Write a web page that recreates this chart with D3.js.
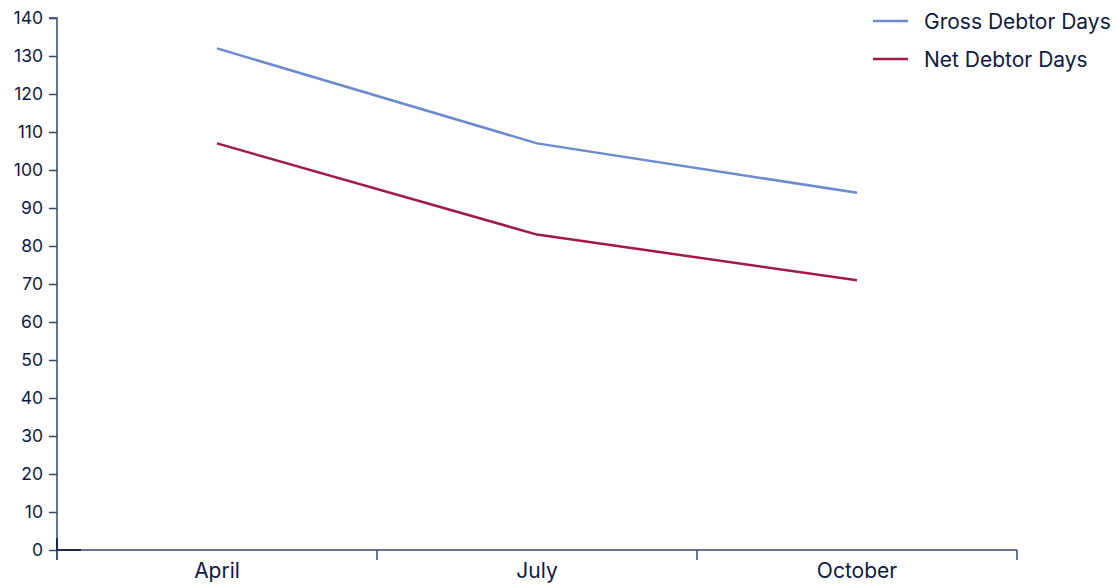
<!DOCTYPE html>
<html>
<head>
<meta charset="utf-8">
<script src="https://cdn.jsdelivr.net/npm/d3@7"></script>
<style>
  html, body { margin: 0; padding: 0; background: #fff; }
  svg { display: block; }
  text { font-family: Inter, "Noto Sans", sans-serif; fill: #0d1a45; }
</style>
</head>
<body>
<svg id="chart" width="1116" height="584"></svg>
<script>
const categories = ["April", "July", "October"];
const seriesNames = ["Gross Debtor Days", "Net Debtor Days"];
const grossValues = [132, 107, 94];
const netValues = [107, 83, 71];
const yTicks = [0, 10, 20, 30, 40, 50, 60, 70, 80, 90, 100, 110, 120, 130, 140];
const colors = ["#6a8bd0", "#a11a45"];

(function () {
const svg = d3.select("#chart");
const mLeft = 57, mRight = 1017, mTop = 18, mBottom = 550;
const axisColor = "#37476b";

const x = d3.scaleBand().domain(categories).range([mLeft, mRight]);
const y = d3.scaleLinear().domain([0, 140]).range([mBottom, mTop]);

// y axis
const ya = svg.append("g").attr("transform", `translate(${mLeft},0)`)
  .call(d3.axisLeft(y).tickValues(yTicks).tickSize(8).tickPadding(6));
ya.select(".domain").attr("stroke", axisColor).attr("stroke-width", 1.5).attr("d", `M-8,${mTop}H0V${mBottom + 10}`);
ya.selectAll(".tick line").attr("stroke", axisColor).attr("stroke-width", 1.5);
ya.selectAll(".tick text").attr("font-size", 17.5).attr("font-family", "Inter, sans-serif").attr("fill", "#0d1a45");

// x axis
const xa = svg.append("g").attr("transform", `translate(0,${mBottom})`)
  .call(d3.axisBottom(x).tickSize(0).tickPadding(13));
xa.select(".domain").attr("stroke", axisColor).attr("stroke-width", 1.5).attr("d", `M${mLeft},0H${mRight}`);
xa.selectAll(".tick text").attr("font-size", 21).attr("font-family", "Inter, sans-serif").attr("fill", "#0d1a45").attr("dy", "0.72em");
// band boundary ticks
const bounds = categories.map(c => x(c)).concat([x(categories[categories.length - 1]) + x.bandwidth()]);
svg.append("g").selectAll("line").data(bounds).join("line")
  .attr("x1", d => d).attr("x2", d => d)
  .attr("y1", mBottom).attr("y2", mBottom + 10)
  .attr("stroke", axisColor).attr("stroke-width", 1.5);

// small dark segment at the origin
svg.append("path").attr("d", `M${mLeft},${mBottom - 12}V${mBottom}H${mLeft + 24}`)
  .attr("fill", "none").attr("stroke", "#1c2a4f").attr("stroke-width", 2);

// lines
const data = [grossValues, netValues];
const line = d3.line().x((d, i) => x(categories[i]) + x.bandwidth() / 2).y(d => y(d));
svg.append("g").selectAll("path").data(data).join("path")
  .attr("d", d => line(d))
  .attr("fill", "none")
  .attr("stroke", (d, i) => colors[i])
  .attr("stroke-width", 2.5);

// legend
const lg = svg.append("g").attr("transform", "translate(873,21)");
const items = lg.selectAll("g").data(seriesNames).join("g")
  .attr("transform", (d, i) => `translate(0,${i * 38})`);
items.append("line").attr("x1", 0).attr("x2", 35).attr("y1", 0).attr("y2", 0)
  .attr("stroke", (d, i) => colors[i]).attr("stroke-width", 2.5);
items.append("text").attr("x", 51).attr("y", 0).attr("dy", "0.36em")
  .attr("font-size", 21).text(d => d);
})();
</script>
</body>
</html>
